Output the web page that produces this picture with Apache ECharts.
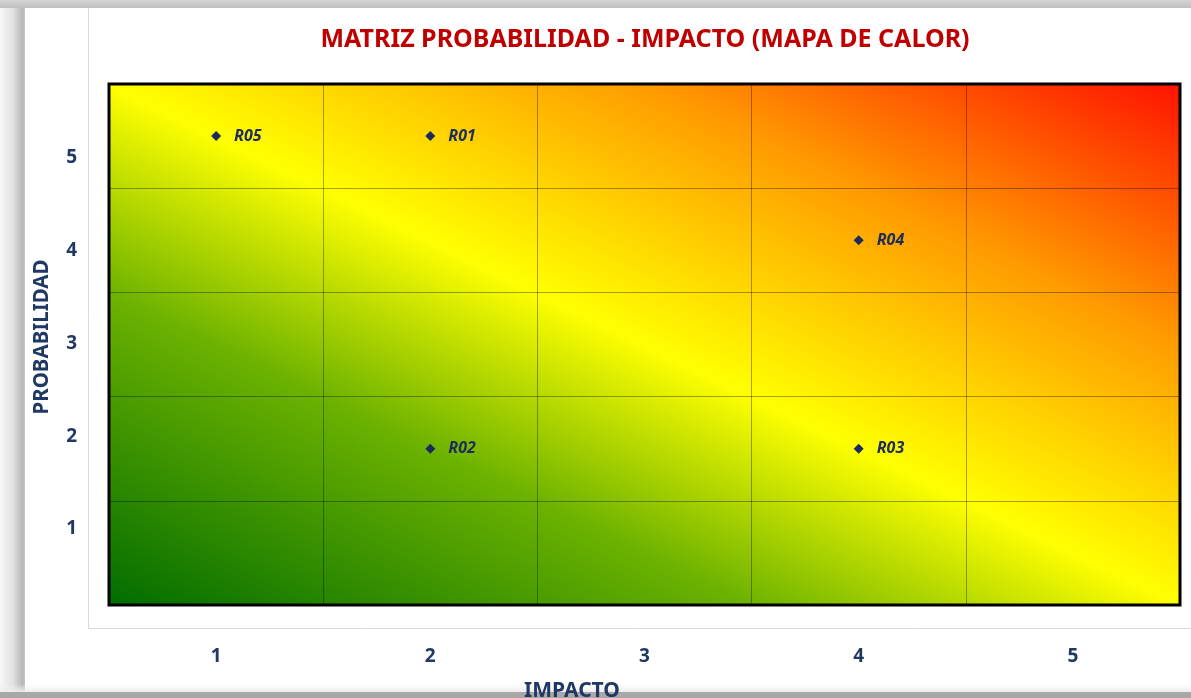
<!DOCTYPE html>
<html><head><meta charset="utf-8">
<script src="https://cdn.jsdelivr.net/npm/echarts@6/dist/echarts.min.js"></script>
<style>html,body{margin:0;padding:0;background:#fff}#c{width:1191px;height:698px}</style>
</head><body><div id="c"></div>
<script>
const chartTitle = 'MATRIZ PROBABILIDAD - IMPACTO (MAPA DE CALOR)';
const xAxisTitle = 'IMPACTO';
const yAxisTitle = 'PROBABILIDAD';
const impactCategories = ['1','2','3','4','5'];
const probabilityCategories = ['1','2','3','4','5'];
const probabilityTicks = [1,2,3,4,5];
const riskNames = ['R01','R02','R03','R04','R05'];
const riskImpact = [2,2,4,4,1];
const riskProbability = [5,2,2,4,5];

const W = 1191, H = 698;
const G = {left:109, top:84, right:11, bottom:93};
const gw = W - G.left - G.right, gh = H - G.top - G.bottom;
const D2 = gw*gw + gh*gh;
const ga = gh*gh/D2, gb = gw*gw/D2;
const heat = {type:'linear', x:0.5-ga, y:0.5+gb, x2:0.5+ga, y2:0.5-gb, global:false,
  colorStops:[{offset:0,color:'#006c00'},{offset:0.3,color:'#6cb200'},{offset:0.5,color:'#ffff00'},{offset:0.75,color:'#ff9a00'},{offset:1,color:'#ff1000'}]};
const NAVY = '#1f3864';
const FONT = 'Noto Sans';

const chart = echarts.init(document.getElementById('c'), null, {renderer:'canvas'});
chart.setOption({
  animation:false,
  backgroundColor:'#ffffff',
  grid:[
    {left:G.left, top:G.top, right:G.right, bottom:G.bottom, show:true, backgroundColor:heat, borderColor:'#000', borderWidth:3, z:0},
    {left:88, top:65.25, right:G.right, bottom:76.25, show:false}
  ],
  xAxis:[
    {gridIndex:0, type:'category', data:impactCategories, boundaryGap:true, z:3,
     axisLine:{show:false}, axisTick:{show:false},
     splitLine:{show:true, interval:0, lineStyle:{color:'rgba(0,0,0,0.35)', width:1}},
     axisLabel:{interval:0, margin:42, fontSize:19, fontWeight:'bold', color:NAVY, fontFamily:FONT}},
    {gridIndex:1, type:'value', show:false}
  ],
  yAxis:[
    {gridIndex:0, type:'category', data:probabilityCategories, boundaryGap:true, z:3,
     axisLine:{show:false}, axisTick:{show:false}, axisLabel:{show:false},
     splitLine:{show:true, interval:0, lineStyle:{color:'rgba(0,0,0,0.35)', width:1}}},
    {gridIndex:1, type:'value', min:0, max:6, interval:1,
     axisLine:{show:false}, axisTick:{show:false}, splitLine:{show:false},
     axisLabel:{margin:11, fontSize:19, fontWeight:'bold', color:NAVY, fontFamily:FONT,
       formatter:v => probabilityTicks.includes(v) ? String(v) : ''}}
  ],
  graphic:[
    {type:'rect', z:-10, shape:{x:0,y:0,width:25,height:H},
     style:{fill:new echarts.graphic.LinearGradient(0,0,1,0,[{offset:0,color:'#f8f8f8'},{offset:0.5,color:'#e2e2e2'},{offset:0.9,color:'#b8b8b8'},{offset:1,color:'#c4c4c4'}])}},
    {type:'rect', z:-10, shape:{x:0,y:0,width:W,height:8},
     style:{fill:new echarts.graphic.LinearGradient(0,0,0,1,[{offset:0,color:'#d4d4d4'},{offset:1,color:'#c0c0c0'}])}},
    {type:'rect', z:-10, shape:{x:0,y:684,width:W,height:8},
     style:{fill:new echarts.graphic.LinearGradient(0,0,0,1,[{offset:0,color:'rgba(240,240,240,0)'},{offset:1,color:'#ececec'}])}},
    {type:'rect', z:-10, shape:{x:0,y:692,width:W,height:6}, style:{fill:'#a8a8a8'}},
    {type:'line', z:-5, shape:{x1:88.5,y1:8,x2:88.5,y2:628.5}, style:{stroke:'#d9d9d9', lineWidth:1}},
    {type:'line', z:-5, shape:{x1:88,y1:628.5,x2:W,y2:628.5}, style:{stroke:'#d9d9d9', lineWidth:1}},
    {type:'text', z:10, x:645, y:40, style:{text:chartTitle, fill:'#c00000', font:'bold 25px "Noto Sans"', textAlign:'center', textVerticalAlign:'middle'}},
    {type:'text', z:10, x:572, y:691, style:{text:xAxisTitle, fill:NAVY, font:'bold 21px "Noto Sans"', textAlign:'center', textVerticalAlign:'middle'}},
    {type:'text', z:10, x:42, y:337, rotation:Math.PI/2, style:{text:yAxisTitle, fill:NAVY, font:'bold 20.5px "Noto Sans"', textAlign:'center', textVerticalAlign:'middle'}}
  ],
  series:[{
    type:'scatter', xAxisIndex:0, yAxisIndex:0, z:5,
    symbol:'diamond', symbolSize:10, itemStyle:{color:'#1b2a5e', opacity:1},
    data: riskNames.map((n,i)=>({name:n, value:[String(riskImpact[i]), String(riskProbability[i])]})),
    label:{show:true, position:'right', distance:13, formatter:'{b}', fontStyle:'italic', fontWeight:'bold', fontSize:16, color:'#1f2d5a', fontFamily:FONT}
  }]
});
</script></body></html>
